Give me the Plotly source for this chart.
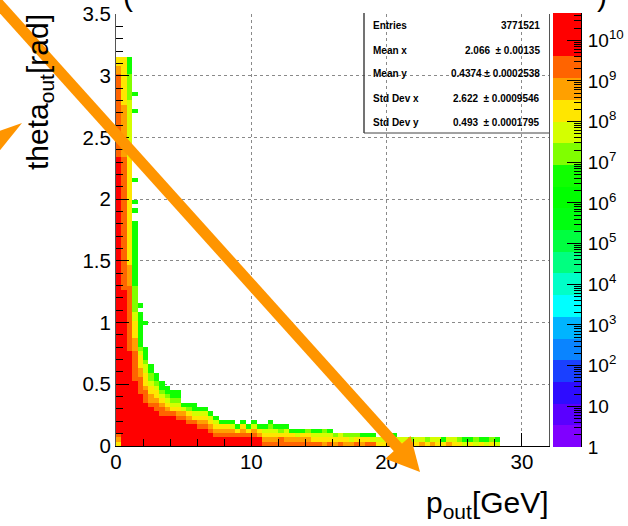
import math
import plotly.graph_objects as go

W, H = 628, 526
FONT = "Liberation Sans, Arial, Helvetica, sans-serif"

# ---------------------------------------------------------------- binning
P_BIN = 0.4        # GeV per bin
THETA_BIN = 0.035  # rad per bin
N_P = 80           # 0 .. 32 GeV
N_THETA = 100      # 0 .. 3.5 rad

# bin content of each colour level (weighted entries per bin)
level_content = {
    "R": 2.5e10,
    "O": 2.2e9,
    "L": 6.3e8,
    "Y": 1.9e8,
    "g": 5.5e7,
    "l": 1.6e7,
    "G": 4.7e6,
}

# one string per p_out bin, theta bins listed bottom-up as run lengths
# ("R64" = 64 consecutive theta bins at level R, "." = empty bin)
theta_runs = [
    "Y1 L1 O1 R64 O19 L2 Y2",
    "R36 O31 L12 Y11",
    "R22 O15 L5 Y25 g13 l6 G4",
    "R15 O7 L3 Y4 g2 l6 G15 .2 G1 .1 G1 .4 G1 .15 G1 .3 G1",
    "R12 O4 L2 Y3 g1 l1 G8 .1 G1",
    "R10 O3 L1 Y3 g2 l1 G3 .5 G1",
    "R9 O1 L2 Y2 g1 l2 G2",
    "R8 O2 L1 Y2 g1 l1 G2",
    "R7 O2 L1 Y1 g1 l1 G2",
    "R7 O1 L1 Y1 g1 l1 G2",
    "R7 O1 Y1 g1 l1 G2",
    "R6 O1 L1 Y1 g1 l1 G2",
    "R6 O1 L1 g1 G1",
    "R5 O1 L1 Y1 l1 G1",
    "R5 O1 Y1 g1 G2",
    "R4 O1 L1 Y1 g1 G1",
    "R4 O1 L1 Y1 g1 G1",
    "R3 O1 L1 Y1 g1 G1",
    "R2 O1 L1 Y1 g1 G1",
    "R2 O1 L1 Y1 G1",
    "R2 O1 L1 Y1 G1",
    "R2 O1 L1 g1 G1",
    "R2 O1 Y1 G1",
    "R2 O1 L1 Y1 G1",
    "R2 O1 Y1 G1",
    "R2 O1 L1 g1 G1",
    "R2 L1 Y1 G1",
    "O1 L1 Y1 g1 G1",
    "O1 L1 Y1 g1 l1 G1",
    "O1 L1 Y1 g1 G1",
    "O2 Y1 l1 G1",
    "O1 L1 Y1 g1 G1",
    "O1 L1 Y1 G1",
    "O1 L1 g1 G1",
    "O1 L1 Y1 G1",
    "O1 L1 Y1 l1",
    "O1 Y1 g1 G1",
    "O1 Y1 g1 G1",
    "L1 Y1 g1 l1",
    "O1 Y1 g1 G1",
    "L1 Y1 l1",
    "O1 Y1 g1",
    "L1 Y1 l1",
    "L1 g1 l1",
    "O1 Y1 l1",
    "L1 Y1 G1",
    "O1 Y1 G1",
    "O1 g1 G1",
    "Y1 g1",
    "Y1 g1",
    "L1 l1 G1",
    "L1 g1 G1",
    "Y1 g1",
    "Y1 g1",
    "L1 l1",
    "Y1 g1",
    "L1 g1",
    "Y1 l1",
    "L1 g1",
    "Y1 g1",
    "Y1 G1",
    "L1 g1",
    "Y1 g1",
    "Y1 l1",
    "g1 G1",
    "Y1 G1",
    "g1 l1",
    "Y1 G1",
    "g1 G1",
    "Y1 l1",
    "g1 G1",
]

# statistics box
stat_labels = ["Entries", "Mean x", "Mean y", "Std Dev x", "Std Dev y"]
stat_values = ["3771521", "2.066  \u00b1 0.00135", "0.4374 \u00b1 0.0002538",
               "2.622  \u00b1 0.0009546", "0.493  \u00b1 0.0001795"]

# colour axis: 20 contour levels on a log scale between 1 and ~4.7e10
N_CONT = 20
LOG_ZMAX = 10.67
cont_colors = ["#8000ff", "#5a00ff", "#2e0cff", "#1a40ff", "#0a84ff",
               "#00b4ff", "#00ffff", "#00ffc8", "#00ff80", "#00ff40",
               "#00ff10", "#00ff00", "#10ff00", "#80ff00", "#d4ff00",
               "#ffe600", "#ffa000", "#ff6400", "#ff0000", "#ff0000"]
cbar_labels = ["1", "10"] + ["10<sup>%d</sup>" % k for k in range(2, 11)]

# ---------------------------------------------------------------- build z
def decode(runs):
    cells = []
    for tok in runs.split():
        cells.extend([tok[0]] * int(tok[1:]))
    return cells

z = [[None] * N_P for _ in range(N_THETA)]
for i, runs in enumerate(theta_runs):
    for j, lvl in enumerate(decode(runs)):
        if lvl != ".":
            z[j][i] = math.log10(level_content[lvl])

p_centers = [P_BIN * (i + 0.5) for i in range(N_P)]
theta_centers = [THETA_BIN * (j + 0.5) for j in range(N_THETA)]

colorscale = []
for k, c in enumerate(cont_colors):
    colorscale.append([k / N_CONT, c])
    colorscale.append([(k + 1) / N_CONT, c])

band_w = LOG_ZMAX / N_CONT
band_centers = [band_w * (k + 0.5) for k in range(N_CONT)]


def px(x):
    return x / W


def py(y):
    return 1 - y / H


fig = go.Figure()
fig.add_trace(go.Heatmap(
    x=p_centers, y=theta_centers, z=z, colorscale=colorscale,
    zmin=0, zmax=LOG_ZMAX, showscale=False, hoverongaps=False,
    xaxis="x", yaxis="y"))
fig.add_trace(go.Heatmap(
    x=[0.5], y=band_centers, z=[[v] for v in band_centers],
    colorscale=colorscale, zmin=0, zmax=LOG_ZMAX, showscale=False,
    xaxis="x2", yaxis="y2"))

tickfont = dict(family=FONT, size=20.5, color="black")
grid = dict(showgrid=True, gridcolor="#8a8a8a", griddash="dot", gridwidth=1)

minor_cbar = [k + math.log10(m) for k in range(11) for m in range(2, 10)
              if k + math.log10(m) < LOG_ZMAX]

fig.update_layout(
    width=W, height=H, margin=dict(l=0, r=0, t=0, b=0),
    paper_bgcolor="white", plot_bgcolor="white", showlegend=False,
    xaxis=dict(domain=[px(116), px(549)], range=[0, 32], tickvals=[0, 10, 20, 30],
               ticks="inside", ticklen=13, tickcolor="black", tickwidth=1,
               minor=dict(dtick=2, tick0=0, ticks="inside", ticklen=7,
                          tickcolor="black", showgrid=False),
               showline=True, linecolor="black", linewidth=1, zeroline=False,
               tickfont=tickfont, anchor="y", automargin=False,
               ticklabelstandoff=-3, **grid),
    yaxis=dict(domain=[py(446), py(14)], range=[0, 3.5], dtick=0.5, tick0=0,
               ticks="inside", ticklen=13, tickcolor="black", tickwidth=1,
               minor=dict(dtick=0.1, tick0=0, ticks="inside", ticklen=7,
                          tickcolor="black", showgrid=False),
               showline=True, linecolor="#555555", linewidth=1, mirror=True,
               zeroline=False, tickfont=tickfont, anchor="x", automargin=False,
               ticklabelstandoff=0, **grid),
    xaxis2=dict(domain=[px(553), px(581)], range=[0, 1], visible=False,
                anchor="y2"),
    yaxis2=dict(domain=[py(447), py(13)], range=[0, LOG_ZMAX], side="right",
                anchor="x2", tickvals=list(range(11)), ticktext=cbar_labels,
                ticks="inside", ticklen=14, tickcolor="black", tickwidth=1,
                minor=dict(tickvals=minor_cbar, ticks="inside", ticklen=7,
                           tickcolor="black", showgrid=False),
                showline=True, linecolor="black", linewidth=1, showgrid=False,
                zeroline=False, tickfont=dict(family=FONT, size=19, color="black"),
                automargin=False, ticklabelstandoff=2),
)

annotations = []


def note(text, x, y, size, xanchor="center", yanchor="middle", **kw):
    annotations.append(dict(text=text, x=px(x), y=py(y), xref="paper", yref="paper",
                            xanchor=xanchor, yanchor=yanchor, showarrow=False,
                            font=dict(family=FONT, size=size, color="black"), **kw))


# axis titles
note("p<sub>out</sub>[GeV]", 551, 504, 30, xanchor="right")
note("theta<sub>out</sub>[rad]", 40, 12, 30, yanchor="top", textangle=-90)
# histogram title (runs off the top of the canvas)
note("(", 128, 14, 30, yanchor="bottom")
note(")", 602, 14, 30, yanchor="bottom")
# statistics box
row_y = [25, 50, 74, 98, 123]
for lab, val, yy in zip(stat_labels, stat_values, row_y):
    note("<b>%s</b>" % lab, 371, yy, 10, xanchor="left")
    note("<b>%s</b>" % val, 542, yy, 10, xanchor="right")
fig.update_layout(annotations=annotations)

shapes = []
shapes.append(dict(type="line", xref="paper", yref="paper", x0=px(364), x1=px(364),
                   y0=py(13), y1=py(133), line=dict(color="#444444", width=1.5),
                   layer="above"))
shapes.append(dict(type="line", xref="paper", yref="paper", x0=px(364), x1=px(549),
                   y0=py(133), y1=py(133), line=dict(color="#444444", width=1),
                   layer="above"))

# orange arrows drawn over the figure
ORANGE = "#ff9500"
tip = (420.0, 472.0)
start = (-12.0, -8.0)
dx, dy = tip[0] - start[0], tip[1] - start[1]
L = math.hypot(dx, dy)
ux, uy = dx / L, dy / L
head_len, head_half = 33.0, 17.0
bx, by = tip[0] - head_len * ux, tip[1] - head_len * uy
nx, ny = -uy, ux
shapes.append(dict(type="line", xref="paper", yref="paper",
                   x0=px(start[0]), y0=py(start[1]), x1=px(bx + 2 * ux), y1=py(by + 2 * uy),
                   line=dict(color=ORANGE, width=11), layer="above"))
head = [(tip[0], tip[1]), (bx + head_half * nx, by + head_half * ny),
        (bx - head_half * nx, by - head_half * ny)]
shapes.append(dict(type="path", xref="paper", yref="paper",
                   path="M " + " L ".join("%f,%f" % (px(a), py(b)) for a, b in head) + " Z",
                   fillcolor=ORANGE, line=dict(width=0), layer="above"))
head2 = [(22, 123), (-8, 160), (-12, 135)]
shapes.append(dict(type="path", xref="paper", yref="paper",
                   path="M " + " L ".join("%f,%f" % (px(a), py(b)) for a, b in head2) + " Z",
                   fillcolor=ORANGE, line=dict(width=0), layer="above"))
fig.update_layout(shapes=shapes)

fig.write_html("out.html")
